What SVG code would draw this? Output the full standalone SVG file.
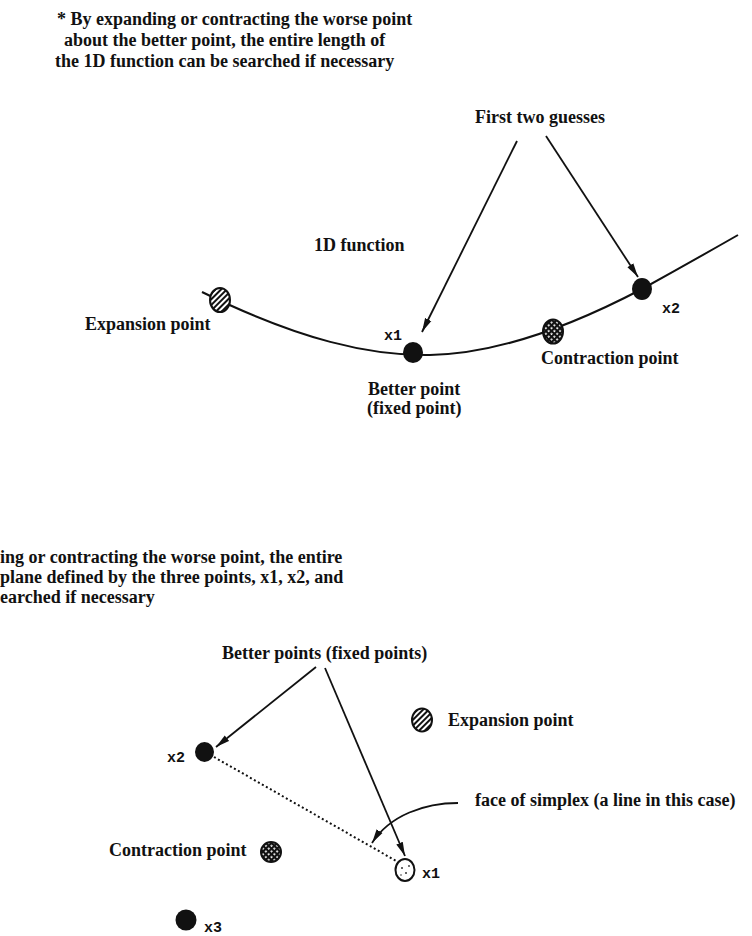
<svg xmlns="http://www.w3.org/2000/svg" width="752" height="936" viewBox="0 0 752 936">
  <style>
    .t { font-family: "Liberation Serif", "Times New Roman", serif; font-weight: bold; font-size: 18px; fill: #111; }
    .v { font-family: "Liberation Mono", "Courier New", monospace; font-weight: bold; font-size: 15px; fill: #111; }
    .pt { stroke: #111; stroke-width: 2; }
    .solid { fill: #111; }
    .ln { fill: none; stroke: #111; stroke-width: 1.8; }
    .fn { fill: none; stroke: #111; stroke-width: 2; }
    .dot { fill: none; stroke: #111; stroke-width: 2; stroke-dasharray: 2 2.6; }
  </style>
  <defs>
    <marker id="ah" viewBox="0 0 14 8" refX="14" refY="4" markerWidth="14" markerHeight="8" markerUnits="userSpaceOnUse" orient="auto">
      <path d="M0,0.5 L14,4 L0,7.5 z" fill="#111"/>
    </marker>
    <pattern id="hatch" width="4" height="4" patternUnits="userSpaceOnUse" patternTransform="rotate(45)">
      <rect width="4" height="4" fill="#fff"/>
      <rect width="2" height="4" fill="#111"/>
    </pattern>
    <pattern id="xhatch" width="4" height="4" patternUnits="userSpaceOnUse" patternTransform="rotate(45)">
      <rect width="4" height="4" fill="#111"/>
      <rect x="1.2" y="1.2" width="1.8" height="1.8" fill="#fff"/>
    </pattern>
  </defs>
  <rect width="752" height="936" fill="#fff"/>

  <!-- 1D line search -->
  <g id="note-1d">
    <text class="t" x="57" y="25">* By expanding or contracting the worse point</text>
    <text class="t" x="64" y="46">about the better point, the entire length of</text>
    <text class="t" x="55" y="67">the 1D function can be searched if necessary</text>
  </g>
  <g id="label-first-guesses">
    <text class="t" x="475" y="123">First two guesses</text>
  </g>
  <g id="function-1d">
    <path class="fn" d="M202,292 C300,340 370,356 430,355 C490,354 560,332 642,289 C680,268 710,251 738,235"/>
    <text class="t" x="314" y="251">1D function</text>
  </g>
  <g id="expansion-1d">
    <ellipse class="pt" cx="220" cy="300" rx="10" ry="12" fill="url(#hatch)"/>
    <text class="t" x="85" y="330">Expansion point</text>
  </g>
  <g id="x1-1d">
    <ellipse class="solid" cx="413" cy="352.5" rx="10" ry="10.5"/>
    <text class="v" x="384" y="340">x1</text>
    <text class="t" x="368" y="395">Better point</text>
    <text class="t" x="367" y="414">(fixed point)</text>
  </g>
  <g id="contraction-1d">
    <ellipse class="pt" cx="553" cy="331.5" rx="10" ry="12" fill="url(#xhatch)"/>
    <text class="t" x="541" y="364">Contraction point</text>
  </g>
  <g id="x2-1d">
    <ellipse class="solid" cx="642" cy="289" rx="10" ry="11"/>
    <text class="v" x="662" y="313">x2</text>
  </g>

  <!-- 2D simplex -->
  <g id="note-2d">
    <text class="t" x="0" y="563">ing or contracting the worse point, the entire</text>
    <text class="t" x="0" y="583">plane defined by the three points, x1, x2, and</text>
    <text class="t" x="0" y="603">earched if necessary</text>
  </g>
  <g id="label-better-points">
    <text class="t" x="222" y="659">Better points (fixed points)</text>
  </g>
  <g id="expansion-2d">
    <ellipse class="pt" cx="422" cy="720" rx="10" ry="11.5" fill="url(#hatch)"/>
    <text class="t" x="448" y="726">Expansion point</text>
  </g>
  <g id="x2-2d">
    <ellipse class="solid" cx="204.5" cy="752" rx="9.5" ry="10"/>
    <text class="v" x="167" y="762">x2</text>
  </g>
  <g id="face-label">
    <text class="t" x="475" y="806">face of simplex (a line in this case)</text>
  </g>
  <g id="contraction-2d">
    <text class="t" x="109" y="856">Contraction point</text>
    <ellipse class="pt" cx="271" cy="852" rx="10" ry="10" fill="url(#xhatch)"/>
  </g>
  <g id="x1-2d">
    <ellipse class="pt" cx="405" cy="870" rx="9.5" ry="11" fill="#fff"/>
    <circle cx="402" cy="868" r="1" fill="#333"/>
    <circle cx="406" cy="873" r="1" fill="#333"/>
    <circle cx="409" cy="866" r="0.9" fill="#333"/>
    <circle cx="401" cy="875" r="0.8" fill="#333"/>
    <text class="v" x="422" y="878">x1</text>
  </g>
  <g id="x3-2d">
    <ellipse class="solid" cx="186" cy="920" rx="10.5" ry="10.5"/>
    <text class="v" x="204" y="932">x3</text>
  </g>

  <!-- connectors -->
  <g id="connectors">
    <line class="ln" x1="517" y1="141" x2="422" y2="332" marker-end="url(#ah)"/>
    <line class="ln" x1="546" y1="136" x2="638" y2="277" marker-end="url(#ah)"/>
    <line class="ln" x1="316" y1="667" x2="216" y2="747" marker-end="url(#ah)"/>
    <line class="ln" x1="325" y1="668" x2="405" y2="856" marker-end="url(#ah)"/>
    <line class="dot" x1="214" y1="757" x2="398" y2="862"/>
    <path class="ln" d="M458,803 C425,803 390,815 372,843" marker-end="url(#ah)"/>
  </g>
</svg>
